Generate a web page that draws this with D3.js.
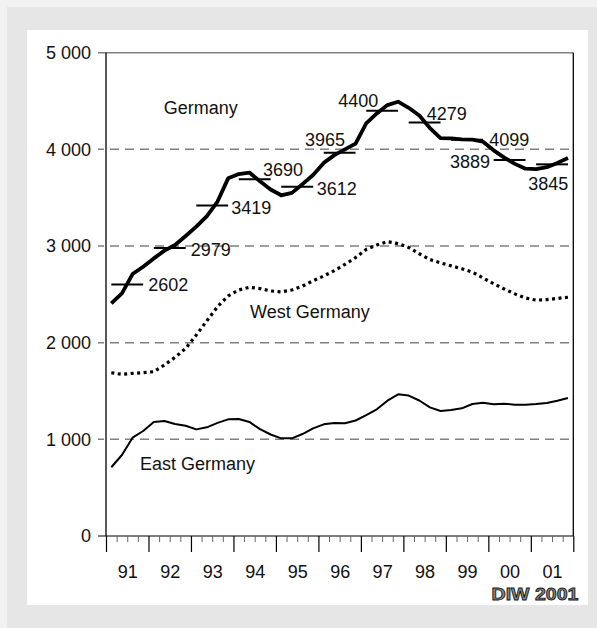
<!DOCTYPE html>
<html>
<head>
<meta charset="utf-8">
<script src="https://cdn.jsdelivr.net/npm/d3@7"></script>
<style>
body { margin: 0; background: #f2f2f2; }
svg { display: block; font-family: "Liberation Sans", Arial, sans-serif; }
</style>
</head>
<body>
<script>
// quarterly values, 1991 Q1 .. 2001 Q4 (thousands)
var years = ["91", "92", "93", "94", "95", "96", "97", "98", "99", "00", "01"];
var germany = [2407, 2510, 2710, 2786, 2872, 2952, 3010, 3103, 3200, 3310, 3460, 3700,
               3745, 3760, 3670, 3585, 3525, 3550, 3640, 3735, 3860, 3940, 4000, 4060,
               4269, 4372, 4458, 4493, 4430, 4350, 4220, 4116, 4114, 4103, 4100, 4079,
               3990, 3915, 3850, 3800, 3795, 3815, 3860, 3910];
var westGermany = [1689, 1672, 1683, 1690, 1700, 1769, 1848, 1941, 2079, 2227, 2372, 2483,
                   2545, 2573, 2560, 2535, 2525, 2545, 2585, 2640, 2690, 2745, 2810, 2880,
                   2965, 3010, 3045, 3025, 2985, 2920, 2860, 2825, 2795, 2765, 2730, 2670,
                   2610, 2555, 2505, 2462, 2440, 2445, 2458, 2470];
var eastGermany = [711, 838, 1017, 1086, 1180, 1190, 1159, 1140, 1103, 1124, 1170, 1207,
                   1210, 1180, 1105, 1050, 1010, 1010, 1055, 1114, 1155, 1168, 1166, 1195,
                   1250, 1311, 1400, 1466, 1453, 1402, 1331, 1293, 1303, 1321, 1366, 1378,
                   1362, 1369, 1359, 1359, 1366, 1376, 1400, 1428];
var annualGermany = [2602, 2979, 3419, 3690, 3612, 3965, 4400, 4279, 4099, 3889, 3845];
var yTicks = [0, 1000, 2000, 3000, 4000, 5000];
var seriesNames = ["Germany", "West Germany", "East Germany"];
var source = "DIW 2001";

// where the text goes (quarter index, value)
var seriesLabelAt = [[5.43, 4435], [13.56, 2321], [3.2, 747]];
// annual label placement: which end of the bar, text anchor, dx, dy of text centre
var annualLabelPlace = [
  ["end", "start", 5, 0], ["end", "start", 5, 1], ["end", "start", 3, 2],
  ["end", "start", -7.6, -10], ["end", "start", 3.6, 1.5], ["end", "end", -10.6, -13.4],
  ["end", "end", -19.7, -10], ["end", "start", -13.8, -9], ["end", "start", 6.3, 0],
  ["start", "end", -3.6, 1], ["end", "end", 0.4, 19]
];

var W = 597, H = 628;
var svg = d3.select("body").append("svg").attr("width", W).attr("height", H);

svg.append("rect").attr("x", 7).attr("y", 7).attr("width", W - 7).attr("height", H - 7)
  .attr("fill", "#e6e6e6");
svg.append("rect").attr("x", 27).attr("y", 30).attr("width", 561).attr("height", 575)
  .attr("fill", "#ffffff");

var x = d3.scaleLinear().domain([0, 44]).range([106, 573.3]);
var y = d3.scaleLinear().domain([0, 5000]).range([536, 52.7]);

// grid lines
svg.append("g").selectAll("line").data(yTicks).join("line")
  .attr("x1", 98).attr("x2", x(44))
  .attr("y1", d => y(d)).attr("y2", d => y(d))
  .attr("stroke", d => d === 0 ? "#000" : "#808080")
  .attr("stroke-width", d => d === 0 ? 1.2 : 1.5)
  .attr("stroke-dasharray", d => (d === 0 || d === 5000) ? null : "9,6")
  .attr("stroke-dashoffset", 3);

// y labels
var fmt = d3.formatLocale({ decimal: ",", thousands: " ", grouping: [3], currency: ["", ""] }).format(",");
svg.append("g")
  .attr("transform", "translate(" + x(0) + ",0)")
  .call(d3.axisLeft(y).tickValues(yTicks).tickSize(0).tickPadding(15).tickFormat(fmt))
  .call(g => g.select(".domain").remove())
  .call(g => g.selectAll("text").attr("font-size", 18).attr("fill", "#111")
    .attr("font-family", "Liberation Sans, Arial, sans-serif"));

// x ticks: quarters and years
var quarterIdx = d3.range(45);
svg.append("g")
  .attr("transform", "translate(0," + y(0) + ")")
  .call(d3.axisBottom(x).tickValues(quarterIdx.filter(q => q % 4 !== 0)).tickSize(6).tickFormat(""))
  .call(g => g.select(".domain").remove())
  .call(g => g.selectAll("line").attr("stroke", "#666"));
svg.append("g")
  .attr("transform", "translate(0," + y(0) + ")")
  .call(d3.axisBottom(x).tickValues(quarterIdx.filter(q => q % 4 === 0)).tickSize(16).tickFormat(""))
  .call(g => g.select(".domain").remove())
  .call(g => g.selectAll("line").attr("stroke", "#000").attr("stroke-width", 1.2));
svg.append("g")
  .attr("transform", "translate(0," + y(0) + ")")
  .call(d3.axisBottom(x).tickValues(years.map((d, i) => i * 4 + 2)).tickSize(0).tickPadding(29)
    .tickFormat((d, i) => years[i]))
  .call(g => g.select(".domain").remove())
  .call(g => g.selectAll("text").attr("font-size", 18).attr("fill", "#111")
    .attr("font-family", "Liberation Sans, Arial, sans-serif"));

// frame: left axis and right border
svg.append("line").attr("x1", x(0)).attr("x2", x(0)).attr("y1", y(5000)).attr("y2", y(0))
  .attr("stroke", "#000").attr("stroke-width", 1.3);
svg.append("line").attr("x1", x(44)).attr("x2", x(44)).attr("y1", y(5000)).attr("y2", y(0))
  .attr("stroke", "#000").attr("stroke-width", 1.3);

var line = d3.line().x((d, i) => x(i + 0.5)).y(d => y(d));

svg.append("path").datum(eastGermany).attr("d", line)
  .attr("fill", "none").attr("stroke", "#000").attr("stroke-width", 2)
  .attr("stroke-linejoin", "round");
svg.append("path").datum(westGermany).attr("d", line)
  .attr("fill", "none").attr("stroke", "#000").attr("stroke-width", 3.2)
  .attr("stroke-dasharray", "3,3.5");
svg.append("path").datum(germany).attr("d", line)
  .attr("fill", "none").attr("stroke", "#000").attr("stroke-width", 3.8)
  .attr("stroke-linejoin", "round");

// annual averages
svg.append("g").selectAll("line").data(annualGermany).join("line")
  .attr("x1", (d, i) => x(i * 4 + 0.5)).attr("x2", (d, i) => x(i * 4 + 3.5))
  .attr("y1", d => y(d)).attr("y2", d => y(d))
  .attr("stroke", "#000").attr("stroke-width", 2);

svg.append("g").selectAll("text").data(annualGermany).join("text")
  .attr("x", (d, i) => {
    var p = annualLabelPlace[i];
    return (p[0] === "end" ? x(i * 4 + 3.5) : x(i * 4 + 0.5)) + p[2];
  })
  .attr("y", (d, i) => y(d) + annualLabelPlace[i][3])
  .attr("dy", "0.36em")
  .attr("text-anchor", (d, i) => annualLabelPlace[i][1])
  .attr("font-size", 18).attr("fill", "#111")
  .text(d => d);

// series names
svg.append("g").selectAll("text").data(seriesNames).join("text")
  .attr("x", (d, i) => x(seriesLabelAt[i][0]))
  .attr("y", (d, i) => y(seriesLabelAt[i][1]))
  .attr("dy", "0.36em")
  .attr("font-size", 18).attr("fill", "#111")
  .text(d => d);

// source
svg.append("text")
  .attr("x", 578.5).attr("y", 594).attr("dy", "0.36em")
  .attr("text-anchor", "end")
  .attr("font-size", 17).attr("font-weight", "bold")
  .attr("textLength", 87).attr("lengthAdjust", "spacingAndGlyphs")
  .attr("fill", "#888").attr("stroke", "#111").attr("stroke-width", 0.8)
  .text(source);
</script>
</body>
</html>
